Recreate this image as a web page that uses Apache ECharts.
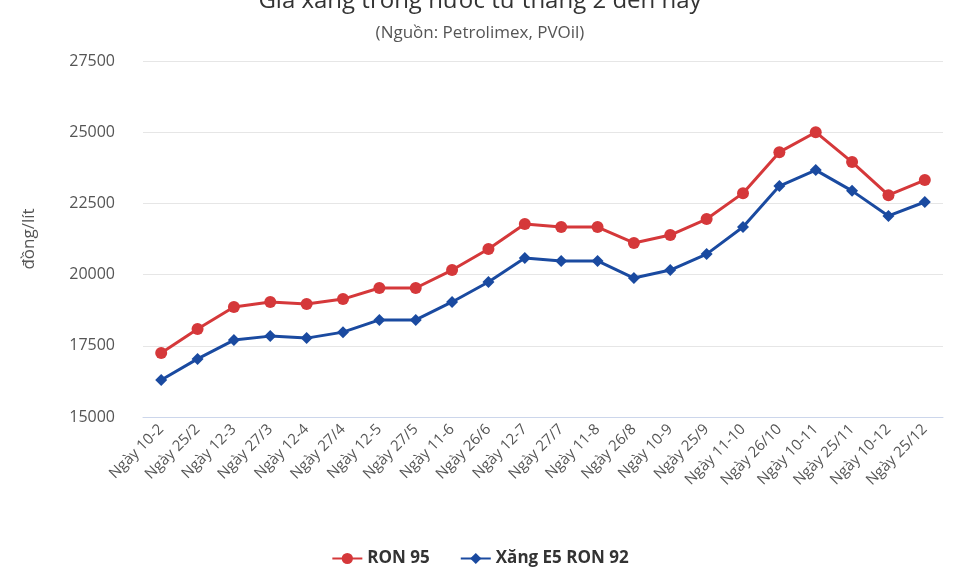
<!DOCTYPE html><html><head><meta charset="utf-8"><script src="https://cdn.jsdelivr.net/npm/echarts@6/dist/echarts.min.js"></script>
<style>html,body{margin:0;padding:0;background:#fff}#c{width:960px;height:576px}</style></head><body><div id="c"></div><script>
const categories=["Ngày 10-2","Ngày 25/2","Ngày 12-3","Ngày 27/3","Ngày 12-4","Ngày 27/4","Ngày 12-5","Ngày 27/5","Ngày 11-6","Ngày 26/6","Ngày 12-7","Ngày 27/7","Ngày 11-8","Ngày 26/8","Ngày 10-9","Ngày 25/9","Ngày 11-10","Ngày 26/10","Ngày 10-11","Ngày 25/11","Ngày 10-12","Ngày 25/12"];
const ron95=[17250,18090,18860,19040,18970,19140,19530,19530,20160,20900,21780,21670,21670,21110,21390,21950,22860,24300,25000,23950,22790,23320];
const e5=[16300,17040,17700,17840,17770,17980,18410,18410,19040,19740,20580,20480,20480,19880,20160,20720,21670,23110,23670,22940,22060,22550];
const ff='"Open Sans", "Noto Sans", sans-serif';
const c=echarts.init(document.getElementById('c'));
c.setOption({
title:{text:'Giá xăng trong nước từ tháng 2 đến nay',subtext:'(Nguồn: Petrolimex, PVOil)',left:'center',top:-16,itemGap:12,
 textStyle:{fontFamily:ff,fontSize:24,fontWeight:'normal',color:'#333'},subtextStyle:{fontFamily:ff,fontSize:17,color:'#555'}},
legend:{bottom:4,itemGap:30,textStyle:{fontFamily:ff,fontSize:17,fontWeight:'bold',color:'#333'},itemWidth:30,itemHeight:14},
grid:{left:143,right:17,top:61,bottom:159},
xAxis:{type:'category',data:categories,boundaryGap:true,axisLine:{lineStyle:{color:'#ccd6eb'}},axisTick:{show:false},
 axisLabel:{rotate:45,interval:0,fontFamily:ff,fontSize:15,color:'#555',margin:10}},
yAxis:{type:'value',min:15000,max:27500,interval:2500,name:'đồng/lít',nameLocation:'middle',nameGap:105,
 nameTextStyle:{fontFamily:ff,fontSize:17,color:'#555'},axisLabel:{fontFamily:ff,fontSize:16,color:'#555',margin:28,formatter:v=>String(v)},
 splitLine:{lineStyle:{color:'#e6e6e6'}}},
series:[
{name:'RON 95',type:'line',data:ron95,symbol:'circle',symbolSize:12,color:'#d5383a',lineStyle:{width:3}},
{name:'Xăng E5 RON 92',type:'line',data:e5,symbol:'diamond',symbolSize:12,color:'#1a4aa0',lineStyle:{width:3}}
]});
</script></body></html>
